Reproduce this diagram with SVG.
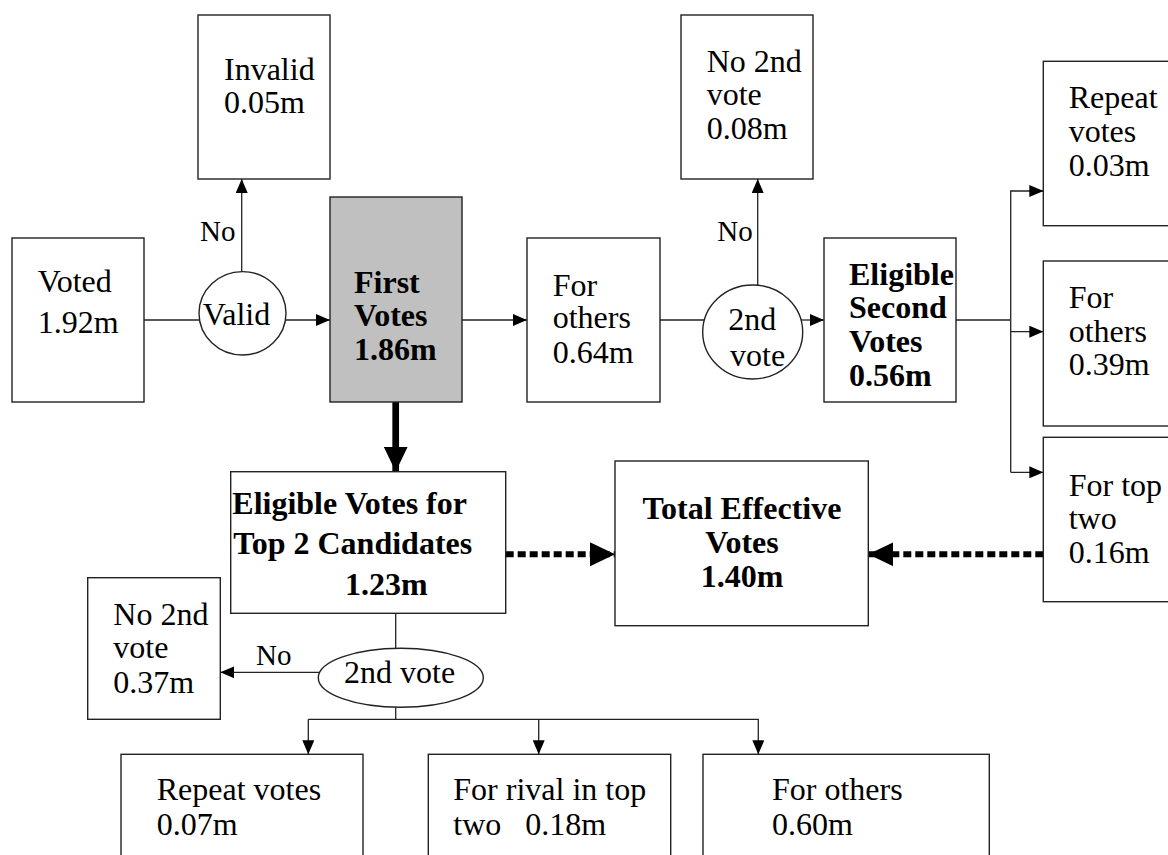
<svg xmlns="http://www.w3.org/2000/svg" width="1168" height="855" viewBox="0 0 1168 855">
<style>
.box{fill:#fff;stroke:#222;stroke-width:1.4}
.gray{fill:#c0c0c0;stroke:#222;stroke-width:1.4}
.ell{fill:#fff;stroke:#222;stroke-width:1.4}
text{font-family:"Liberation Serif","Times New Roman",serif;font-size:32px;fill:#000}
.b{font-weight:bold}
.lbl{font-size:29px}
.ln{fill:none;stroke:#222;stroke-width:1.3}
.thick{fill:none;stroke:#000;stroke-width:6.7}
.dot{fill:none;stroke:#000;stroke-width:6;stroke-dasharray:8 4}
</style>
<defs>
<marker id="a" markerUnits="userSpaceOnUse" markerWidth="14" markerHeight="12" refX="14" refY="6" orient="auto"><path d="M0,0 L14,6 L0,12 z" fill="#000"/></marker>
<marker id="big" markerUnits="userSpaceOnUse" markerWidth="25" markerHeight="24" refX="25" refY="12" orient="auto"><path d="M0,0 L25,12 L0,24 z" fill="#000"/></marker>
</defs>

<g id="connectors">
<line class="ln" x1="144" y1="320" x2="199.6" y2="320"/>
<line class="ln" x1="285.4" y1="320" x2="330" y2="320" marker-end="url(#a)"/>
<line class="ln" x1="241.7" y1="271.6" x2="241.7" y2="179" marker-end="url(#a)"/>
<line class="ln" x1="462" y1="320" x2="527" y2="320" marker-end="url(#a)"/>
<line class="ln" x1="660" y1="320" x2="704.4" y2="320"/>
<line class="ln" x1="801" y1="320" x2="824" y2="320" marker-end="url(#a)"/>
<line class="ln" x1="757.7" y1="285.2" x2="757.7" y2="179" marker-end="url(#a)"/>
<polyline class="ln" points="956,320 1010.7,320"/>
<polyline class="ln" points="1010.7,472.3 1010.7,191 1043.3,191" marker-end="url(#a)"/>
<line class="ln" x1="1010.7" y1="331.7" x2="1043.3" y2="331.7" marker-end="url(#a)"/>
<line class="ln" x1="1010.7" y1="472.3" x2="1043.3" y2="472.3" marker-end="url(#a)"/>
<line class="thick" x1="395.7" y1="402" x2="395.7" y2="471.7" marker-end="url(#big)"/>
<line class="dot" x1="505.7" y1="554.3" x2="615" y2="554.3" marker-end="url(#big)"/>
<line class="dot" x1="1043.3" y1="554.3" x2="868.3" y2="554.3" marker-end="url(#big)"/>
<line class="ln" x1="395.7" y1="613.3" x2="395.7" y2="648.5"/>
<line class="ln" x1="319.8" y1="672.3" x2="220.3" y2="672.3" marker-end="url(#a)"/>
<line class="ln" x1="395.7" y1="707.2" x2="395.7" y2="719.3"/>
<polyline class="ln" points="308.3,719.3 758.3,719.3 758.3,754.3" marker-end="url(#a)"/>
<line class="ln" x1="308.3" y1="719.3" x2="308.3" y2="754.3" marker-end="url(#a)"/>
<line class="ln" x1="538.7" y1="719.3" x2="538.7" y2="754.3" marker-end="url(#a)"/>
<text class="lbl" x="200" y="240.7">No</text>
<text class="lbl" x="717.3" y="240.7">No</text>
<text class="lbl" x="256" y="665">No</text>
</g>

<g id="voted">
<rect class="box" x="12" y="238" width="132" height="164"/>
<text x="37.7" y="291.7">Voted</text>
<text x="37.7" y="333.3">1.92m</text>
</g>

<g id="valid">
<ellipse class="ell" cx="242.5" cy="313.3" rx="43.5" ry="41.7"/>
<text x="202.7" y="325">Valid</text>
</g>

<g id="invalid">
<rect class="box" x="198" y="15" width="132" height="164"/>
<text x="224" y="80">Invalid</text>
<text x="224" y="113.3">0.05m</text>
</g>

<g id="first-votes">
<rect class="gray" x="330" y="197" width="132" height="205"/>
<text class="b" x="354" y="293">First</text>
<text class="b" x="354" y="326">Votes</text>
<text class="b" x="354" y="360">1.86m</text>
</g>

<g id="for-others-1">
<rect class="box" x="527" y="238" width="133" height="164"/>
<text x="552.7" y="295.7">For</text>
<text x="552.7" y="328.3">others</text>
<text x="552.7" y="363.3">0.64m</text>
</g>

<g id="second-vote-1">
<ellipse class="ell" cx="752.7" cy="332" rx="50" ry="47"/>
<text x="728.3" y="330">2nd</text>
<text x="730" y="365.7">vote</text>
</g>

<g id="no-second-1">
<rect class="box" x="681" y="15" width="132" height="164"/>
<text x="706.7" y="71.5">No 2nd</text>
<text x="706.7" y="105.2">vote</text>
<text x="706.7" y="139">0.08m</text>
</g>

<g id="eligible-second">
<rect class="box" x="824" y="238" width="132" height="164"/>
<text class="b" x="849" y="285">Eligible</text>
<text class="b" x="849" y="318.3">Second</text>
<text class="b" x="849" y="352.3">Votes</text>
<text class="b" x="849" y="385.7">0.56m</text>
</g>

<g id="repeat-votes-1">
<rect class="box" x="1043.3" y="61.3" width="140" height="164.4"/>
<text x="1068.7" y="108.3">Repeat</text>
<text x="1068.7" y="141.7">votes</text>
<text x="1068.7" y="175.7">0.03m</text>
</g>

<g id="for-others-2">
<rect class="box" x="1043.3" y="261" width="140" height="165"/>
<text x="1068.7" y="308.3">For</text>
<text x="1068.7" y="341.7">others</text>
<text x="1068.7" y="375">0.39m</text>
</g>

<g id="for-top-two">
<rect class="box" x="1043.3" y="437.3" width="140" height="164.4"/>
<text x="1068.7" y="495.7">For top</text>
<text x="1068.7" y="529">two</text>
<text x="1068.7" y="563.3">0.16m</text>
</g>

<g id="eligible-top2">
<rect class="box" x="230.7" y="471.7" width="275" height="141.6"/>
<text class="b" x="232.3" y="514.3">Eligible Votes for</text>
<text class="b" x="233.3" y="554">Top 2 Candidates</text>
<text class="b" x="345" y="595">1.23m</text>
</g>

<g id="total-effective">
<rect class="box" x="615" y="461" width="253.3" height="164.7"/>
<text class="b" x="742" y="519" text-anchor="middle">Total Effective</text>
<text class="b" x="742" y="553.3" text-anchor="middle">Votes</text>
<text class="b" x="742" y="586.7" text-anchor="middle">1.40m</text>
</g>

<g id="no-second-2">
<rect class="box" x="87.7" y="577.7" width="132.6" height="141.6"/>
<text x="113.3" y="625">No 2nd</text>
<text x="113.3" y="658.3">vote</text>
<text x="113.3" y="692.7">0.37m</text>
</g>

<g id="second-vote-2">
<ellipse class="ell" cx="400.8" cy="677.8" rx="82.5" ry="29.5"/>
<text x="344" y="683.3">2nd vote</text>
</g>

<g id="repeat-votes-2">
<rect class="box" x="121" y="754.3" width="242" height="120"/>
<text x="156.7" y="800">Repeat votes</text>
<text x="156.7" y="835">0.07m</text>
</g>

<g id="for-rival">
<rect class="box" x="428.3" y="754.3" width="242.4" height="120"/>
<text x="453.3" y="800">For rival in top</text>
<text x="453.3" y="835" style="white-space:pre">two   0.18m</text>
</g>

<g id="for-others-3">
<rect class="box" x="703" y="754.3" width="286.3" height="120"/>
<text x="772" y="800">For others</text>
<text x="772" y="835">0.60m</text>
</g>
</svg>
